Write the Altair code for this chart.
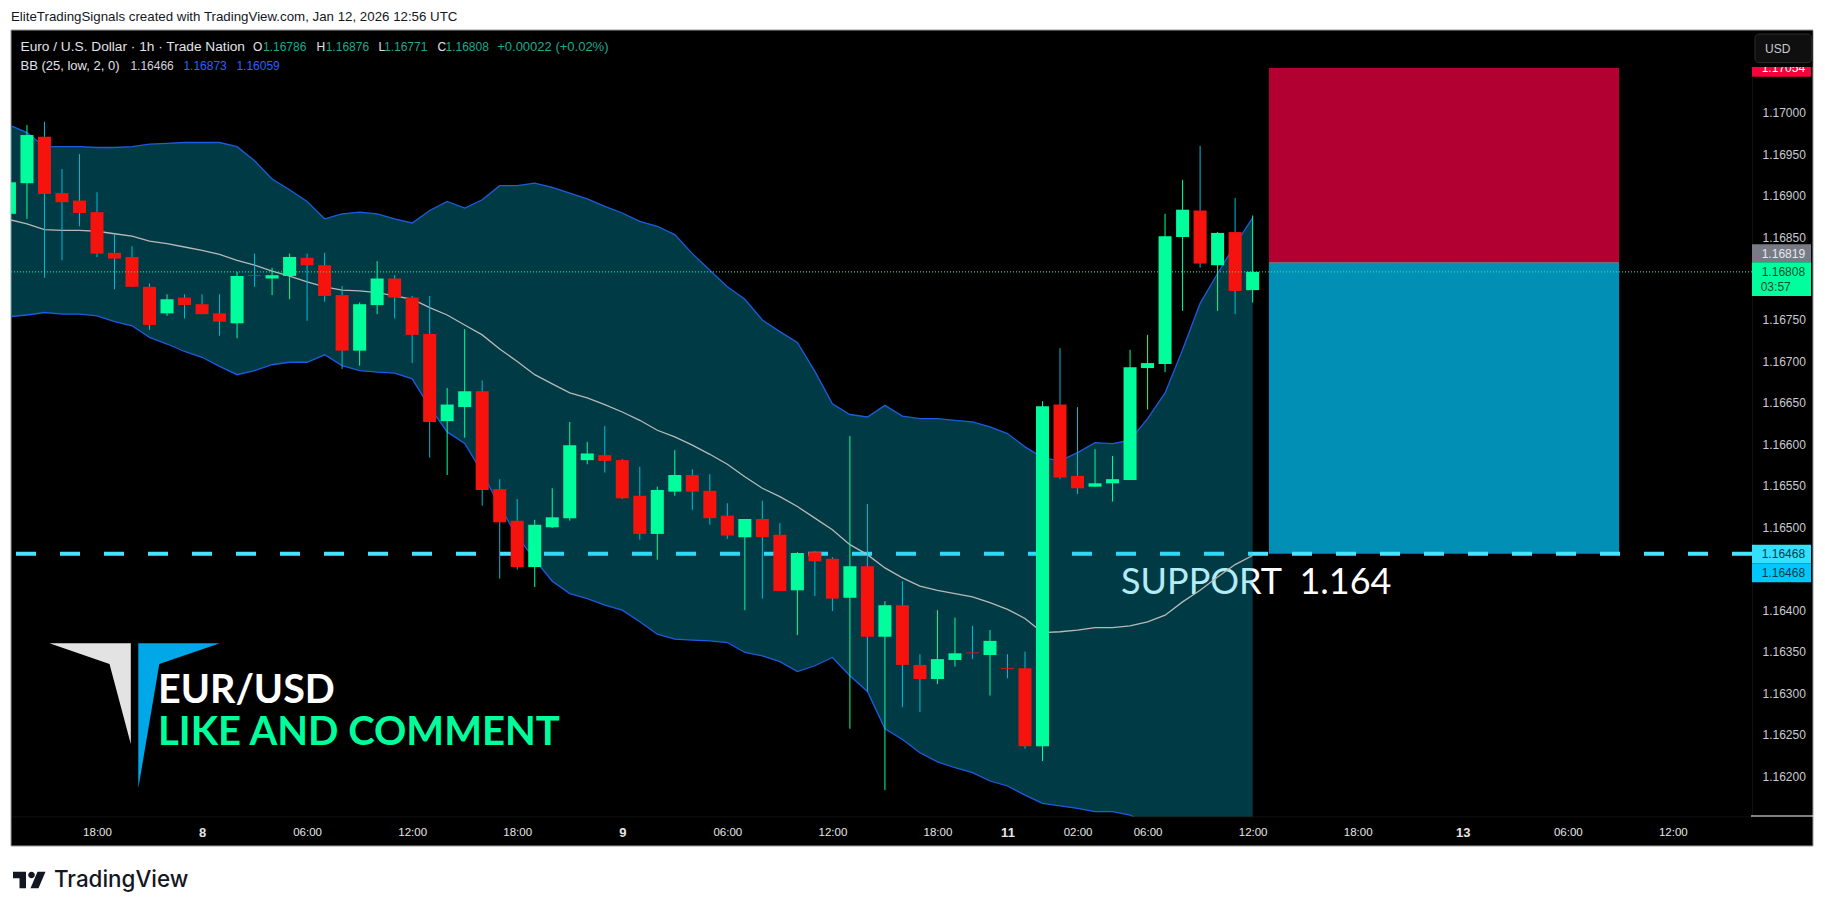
import pandas as pd
import altair as alt

# one entry per 1h candle, bar 0 is the 18:00 candle of Jan 7
bars = list(range(-5, 67))
opens = [1.16878, 1.16915, 1.16971, 1.16903, 1.16894, 1.16880, 1.16831, 1.16826, 1.16790, 1.16758, 1.16777, 1.16769,
         1.16758, 1.16746, 1.16804, 1.16800, 1.16803, 1.16825, 1.16816, 1.16780, 1.16713, 1.16768, 1.16800, 1.16777,
         1.16733, 1.16628, 1.16645, 1.16664, 1.16546, 1.16508, 1.16452, 1.16500, 1.16511, 1.16581, 1.16587, 1.16581,
         1.16538, 1.16492, 1.16543, 1.16563, 1.16544, 1.16514, 1.16488, 1.16510, 1.16491, 1.16424, 1.16470, 1.16462,
         1.16415, 1.16453, 1.16368, 1.16406, 1.16334, 1.16317, 1.16340, 1.16349, 1.16346, 1.16330, 1.16330, 1.16236,
         1.16648, 1.16562, 1.16549, 1.16553, 1.16557, 1.16692, 1.16697, 1.16850, 1.16882, 1.16816, 1.16856, 1.16786]
highs = [1.16920, 1.16985, 1.16989, 1.16932, 1.16950, 1.16904, 1.16853, 1.16839, 1.16794, 1.16781, 1.16781, 1.16781,
         1.16781, 1.16808, 1.16830, 1.16813, 1.16830, 1.16830, 1.16831, 1.16791, 1.16771, 1.16821, 1.16804, 1.16779,
         1.16779, 1.16668, 1.16739, 1.16677, 1.16558, 1.16534, 1.16509, 1.16547, 1.16627, 1.16603, 1.16622, 1.16582,
         1.16573, 1.16549, 1.16593, 1.16570, 1.16564, 1.16529, 1.16510, 1.16532, 1.16505, 1.16470, 1.16471, 1.16464,
         1.16610, 1.16528, 1.16411, 1.16435, 1.16347, 1.16400, 1.16391, 1.16381, 1.16376, 1.16347, 1.16350, 1.16652,
         1.16716, 1.16645, 1.16594, 1.16586, 1.16714, 1.16732, 1.16878, 1.16919, 1.16960, 1.16856, 1.16897, 1.16876]
lows = [1.16870, 1.16872, 1.16801, 1.16822, 1.16863, 1.16826, 1.16787, 1.16790, 1.16738, 1.16755, 1.16752, 1.16757,
        1.16731, 1.16728, 1.16790, 1.16780, 1.16775, 1.16749, 1.16772, 1.16691, 1.16695, 1.16757, 1.16752, 1.16698,
        1.16584, 1.16563, 1.16608, 1.16526, 1.16438, 1.16449, 1.16428, 1.16499, 1.16508, 1.16576, 1.16566, 1.16534,
        1.16485, 1.16461, 1.16538, 1.16521, 1.16503, 1.16486, 1.16400, 1.16414, 1.16423, 1.16370, 1.16417, 1.16399,
        1.16257, 1.16302, 1.16183, 1.16283, 1.16277, 1.16311, 1.16332, 1.16341, 1.16297, 1.16318, 1.16233, 1.16218,
        1.16558, 1.16540, 1.16549, 1.16531, 1.16557, 1.16642, 1.16687, 1.16761, 1.16813, 1.16761, 1.16757, 1.16771]
closes = [1.16916, 1.16973, 1.16902, 1.16892, 1.16879, 1.16830, 1.16824, 1.16790, 1.16744, 1.16775, 1.16768, 1.16757,
          1.16748, 1.16803, 1.16803, 1.16804, 1.16826, 1.16816, 1.16779, 1.16713, 1.16769, 1.16800, 1.16777, 1.16732,
          1.16627, 1.16648, 1.16664, 1.16545, 1.16506, 1.16452, 1.16503, 1.16512, 1.16599, 1.16589, 1.16580, 1.16535,
          1.16492, 1.16545, 1.16563, 1.16543, 1.16511, 1.16490, 1.16510, 1.16488, 1.16423, 1.16469, 1.16459, 1.16414,
          1.16453, 1.16368, 1.16406, 1.16334, 1.16317, 1.16341, 1.16348, 1.16348, 1.16363, 1.16329, 1.16236, 1.16646,
          1.16560, 1.16547, 1.16553, 1.16558, 1.16693, 1.16698, 1.16851, 1.16883, 1.16818, 1.16855, 1.16785, 1.16808]

bb_upper = [1.16985, 1.16976, 1.16959, 1.16959, 1.16959, 1.16958, 1.16958, 1.16959, 1.16962, 1.16963, 1.16964, 1.16964,
            1.16964, 1.16959, 1.16942, 1.16920, 1.16907, 1.16893, 1.16872, 1.16878, 1.16880, 1.16878, 1.16872, 1.16867,
            1.16882, 1.16893, 1.16885, 1.16895, 1.16912, 1.16912, 1.16915, 1.16910, 1.16903, 1.16896, 1.16887, 1.16879,
            1.16869, 1.16863, 1.16853, 1.16830, 1.16810, 1.16790, 1.16775, 1.16750, 1.16736, 1.16723, 1.16688, 1.16649,
            1.16636, 1.16633, 1.16647, 1.16634, 1.16631, 1.16631, 1.16629, 1.16627, 1.16621, 1.16613, 1.16597, 1.16584,
            1.16580, 1.16590, 1.16602, 1.16601, 1.16605, 1.16631, 1.16662, 1.16714, 1.16770, 1.16806, 1.16841, 1.16873]
bb_basis = [1.16871, 1.16866, 1.16859, 1.16858, 1.16858, 1.16857, 1.16854, 1.16851, 1.16845, 1.16842, 1.16838, 1.16834,
            1.16829, 1.16822, 1.16816, 1.16809, 1.16803, 1.16796, 1.16790, 1.16786, 1.16785, 1.16783, 1.16779, 1.16775,
            1.16765, 1.16756, 1.16744, 1.16732, 1.16715, 1.16700, 1.16684, 1.16673, 1.16662, 1.16656, 1.16648, 1.16639,
            1.16629, 1.16617, 1.16609, 1.16599, 1.16588, 1.16576, 1.16561, 1.16547, 1.16537, 1.16525, 1.16511, 1.16497,
            1.16479, 1.16467, 1.16451, 1.16439, 1.16429, 1.16424, 1.16420, 1.16416, 1.16409, 1.16401, 1.16390, 1.16373,
            1.16374, 1.16376, 1.16379, 1.16379, 1.16381, 1.16386, 1.16394, 1.16410, 1.16424, 1.16440, 1.16455, 1.16466]
bb_lower = [1.16754, 1.16756, 1.16759, 1.16757, 1.16757, 1.16755, 1.16748, 1.16743, 1.16729, 1.16721, 1.16712, 1.16705,
            1.16694, 1.16684, 1.16689, 1.16696, 1.16699, 1.16699, 1.16708, 1.16695, 1.16689, 1.16687, 1.16686, 1.16679,
            1.16645, 1.16615, 1.16601, 1.16566, 1.16525, 1.16489, 1.16461, 1.16435, 1.16420, 1.16414, 1.16406, 1.16400,
            1.16386, 1.16371, 1.16365, 1.16364, 1.16363, 1.16361, 1.16349, 1.16345, 1.16338, 1.16326, 1.16333, 1.16343,
            1.16321, 1.16302, 1.16257, 1.16244, 1.16228, 1.16217, 1.16210, 1.16204, 1.16194, 1.16188, 1.16177, 1.16167,
            1.16164, 1.16161, 1.16157, 1.16157, 1.16153, 1.16141, 1.16125, 1.16111, 1.16096, 1.16083, 1.16071, 1.16059]

price_ticks = [1.162, 1.1625, 1.163, 1.1635, 1.164, 1.165, 1.1655, 1.166, 1.1665, 1.167, 1.1675, 1.1685, 1.169,
               1.1695, 1.17]
time_ticks = [0, 6, 12, 18, 24, 30, 36, 42, 48, 52, 56, 60, 66, 72, 78, 84, 90]
time_labels = ["18:00", "8", "06:00", "12:00", "18:00", "9", "06:00", "12:00", "18:00", "11", "02:00", "06:00",
               "12:00", "18:00", "13", "06:00", "12:00"]
date_ticks = [6, 30, 52, 78]

support_price = 1.16468
last_price = 1.16808
entry_price = 1.16819
stop_price = 1.17054
box_start = 66.93
box_end = 86.93

df = pd.DataFrame({"bar": bars, "open": opens, "high": highs, "low": lows, "close": closes,
                   "upper": bb_upper, "basis": bb_basis, "lower": bb_lower})
df["body_color"] = ["#00ff9c" if c >= o else "#f7130d" for o, c in zip(opens, closes)]
df["wick_color"] = ["#00ff9c" if c >= o else "#00bcd4" for o, c in zip(opens, closes)]

FONT = "Liberation Sans"
OX = 11   # plot area origin on the page
OY = 30
W = 1741
H = 787

x_scale = alt.Scale(domain=[-4.911, 94.52], nice=False, padding=0)
y_scale = alt.Scale(domain=[1.161506, 1.170997], nice=False, zero=False, padding=0)
# Every layer carries the same axis, a layer with axis=None would switch it off
x_axis = alt.Axis(
    values=time_ticks, grid=False, ticks=False, domain=False, zindex=1,
    labelExpr=f"{time_labels}[indexof({time_ticks}, datum.value)]",
    labelFont=FONT, labelColor="#e6e6e6", labelPadding=9, labelOverlap=False, labelBound=False,
    labelFlush=False, labelAngle=0,
    labelFontSize={"expr": f"indexof({date_ticks}, datum.value) >= 0 ? 13 : 11.5"},
    labelFontWeight={"expr": f"indexof({date_ticks}, datum.value) >= 0 ? 'bold' : 'normal'"})
y_axis = alt.Axis(
    orient="right", values=price_ticks, format=".5f", grid=False, ticks=False, domain=False, zindex=1,
    labelFont=FONT, labelFontSize=12, labelColor="#c9cbd1", labelPadding=10, labelOverlap=False,
    labelBound=False, labelFlush=False)


def xpos(col):
    return alt.X(col, scale=x_scale, axis=x_axis, title=None)


def ypos(col):
    return alt.Y(col, scale=y_scale, axis=y_axis, title=None)


def box(x, x2, y, y2, color, **kw):
    # page pixels
    return alt.Chart(pd.DataFrame({"a": [0]})).mark_rect(color=color, **kw).encode(
        x=alt.value(x - OX), x2=alt.value(x2 - OX), y=alt.value(y - OY), y2=alt.value(y2 - OY))


def note(text, x, y, color, size=12, **kw):
    return alt.Chart(pd.DataFrame({"t": [text]})).mark_text(
        align=kw.pop("align", "left"), baseline=kw.pop("baseline", "middle"),
        font=kw.pop("font", FONT), fontSize=size, color=color, **kw
    ).encode(x=alt.value(x - OX), y=alt.value(y - OY), text="t:N")


def glyph(path, x, y, color):
    # size 4 keeps the path in plain pixels
    return alt.Chart(pd.DataFrame({"a": [0]})).mark_point(
        shape=path, size=4, filled=True, color=color, opacity=1, strokeWidth=0
    ).encode(x=alt.value(x - OX), y=alt.value(y - OY))


def price_rule(price, **kw):
    return alt.Chart(pd.DataFrame({"p": [price]})).mark_rule(**kw).encode(y=ypos("p:Q"))


background = box(OX, 1813, OY, 846, "#000000", stroke="#9a9a9a", strokeWidth=1)

box_df = pd.DataFrame({"x": [box_start, box_start], "x2": [box_end, box_end],
                       "y": [entry_price, support_price], "y2": [stop_price, entry_price],
                       "fill": ["#b10031", "#018fb5"]})
boxes = alt.Chart(box_df).mark_rect().encode(
    x=xpos("x:Q"), x2="x2:Q", y=ypos("y:Q"), y2="y2:Q", color=alt.Color("fill:N", scale=None))
entry_line = alt.Chart(pd.DataFrame({"x": [box_start], "x2": [box_end], "p": [entry_price]})).mark_rule(
    color="#808080", strokeWidth=1
).encode(x=xpos("x:Q"), x2="x2:Q", y=ypos("p:Q"))

support_line = price_rule(support_price, color="#45e4ff", strokeWidth=4, strokeDash=[20, 24])
# drawn below the band so the band tints it
support_text = note("SUPPORT\u00a0\u00a01.164", 1121, 594, "#ffffff", size=36, font="Lato", baseline="alphabetic")

band_fill = alt.Chart(df).mark_area(clip=True, color="#00c2e6", opacity=0.3).encode(
    x=xpos("bar:Q"), y=ypos("upper:Q"), y2="lower:Q")


def band_line(col, color):
    return alt.Chart(df).mark_line(clip=True, color=color, strokeWidth=1.3).encode(
        x=xpos("bar:Q"), y=ypos(f"{col}:Q"))


wicks = alt.Chart(df).mark_rule(clip=True, strokeWidth=1).encode(
    x=xpos("bar:Q"), y=ypos("low:Q"), y2="high:Q", color=alt.Color("wick_color:N", scale=None))
bodies = alt.Chart(df).mark_bar(clip=True, size=13).encode(
    x=xpos("bar:Q"), y=ypos("open:Q"), y2="close:Q", color=alt.Color("body_color:N", scale=None))

last_line = price_rule(last_price, color="#00ff9c", strokeWidth=1, strokeDash=[1, 2])

# Price scale furniture
scale_lines = [
    box(1752, 1752.8, OY + 1, 817, "#161616"),
    box(OX + 1, 1752, 816.5, 817.3, "#161616"),
    box(1751, 1813, 815.6, 816.6, "#ffffff"),
]
tags = [
    box(1752, 1811, 57, 76.7, "#f7003c", cornerRadius=1),
    note("1.17054", 1761.7, 67.5, "#ffffff"),
    box(1752, 1812.5, 31, 67, "#000000"),
    box(1752, 1811, 244.3, 262.3, "#787b86"),
    note("1.16819", 1761.7, 254, "#e6e8ee"),
    box(1752, 1811, 262.3, 296, "#00ff9c"),
    note("1.16808", 1761.7, 272, "#064d36"),
    note("03:57", 1760.7, 287, "#064d36"),
    box(1752, 1811, 544.7, 563.3, "#33e0ff"),
    note("1.16468", 1761.7, 554, "#0b3b4a"),
    box(1752, 1811, 563.3, 582.3, "#00c8ff"),
    note("1.16468", 1761.7, 572.7, "#0b3b4a"),
    box(1755, 1811.7, 34, 62.7, "#0f0f0f", stroke="#2c2c2c", strokeWidth=1, cornerRadius=4),
    note("USD", 1765, 48.5, "#c9cbd1"),
]

# Legend text in the top left corner
GREEN = "#1fa88f"
legend = [
    note("EliteTradingSignals created with TradingView.com, Jan 12, 2026 12:56 UTC", 11, 16.5, "#131722", size=13.3),
    note("Euro / U.S. Dollar · 1h · Trade Nation", 20.5, 46.7, "#e0e3eb", size=13.7),
    note("O", 253, 46.7, "#e0e3eb"), note("1.16786", 263, 46.7, GREEN),
    note("H", 316.6, 46.7, "#e0e3eb"), note("1.16876", 325.7, 46.7, GREEN),
    note("L", 378.6, 46.7, "#e0e3eb"), note("1.16771", 384, 46.7, GREEN),
    note("C", 437.5, 46.7, "#e0e3eb"), note("1.16808", 445.5, 46.7, GREEN),
    note("+0.00022 (+0.02%)", 497.2, 46.7, GREEN, size=13),
    note("BB (25, low, 2, 0)", 20.5, 65.7, "#e0e3eb", size=13),
    note("1.16466", 130.4, 65.7, "#d1d4dc"),
    note("1.16873", 183.4, 65.7, "#2962ff"),
    note("1.16059", 236.4, 65.7, "#2962ff"),
]

# Watermark logo and its captions
branding = [
    glyph("M0,0 L81.4,0 L81.4,100.7 L60.1,20.7 Z", 49.4, 643.3, "#e3e3e3"),
    glyph("M0,0 L81.5,0 L21,20.7 L0,145 Z", 138.3, 643.3, "#00a8e8"),
    note("EUR/USD", 158, 702.7, "#ffffff", size=39.5, font="Lato", fontWeight="bold", baseline="alphabetic"),
    note("LIKE AND COMMENT", 158, 745, "#00ff9c", size=40, font="Lato", fontWeight="bold", baseline="alphabetic"),
    glyph("M0,0 H13 V16.6 H6.5 V6.5 H0 Z", 13, 871.7, "#131722"),
    glyph("M15.2,3.3 A3.3,3.3 0 1 0 21.8,3.3 A3.3,3.3 0 1 0 15.2,3.3 Z", 13, 871.7, "#131722"),
    glyph("M32.5,0 L25.5,16.6 H17.5 L24.5,0 Z", 13, 871.7, "#131722"),
    note("TradingView", 54, 880, "#131722", size=22.4, font="Inter", fontWeight=500),
]

chart = alt.layer(
    background, boxes, entry_line, support_line, support_text, band_fill,
    band_line("upper", "#1c5ce0"), band_line("lower", "#1c5ce0"), band_line("basis", "#b8b8b8"),
    wicks, bodies, last_line, *scale_lines, *tags, *legend, *branding
).properties(
    width=W, height=H, background="white",
    padding={"left": 3, "top": 22, "right": 65, "bottom": 88},
    autosize=alt.AutoSizeParams(type="none"),
).configure_view(strokeWidth=0)

chart.save("out.html", embed_options={"renderer": "svg", "actions": False})
